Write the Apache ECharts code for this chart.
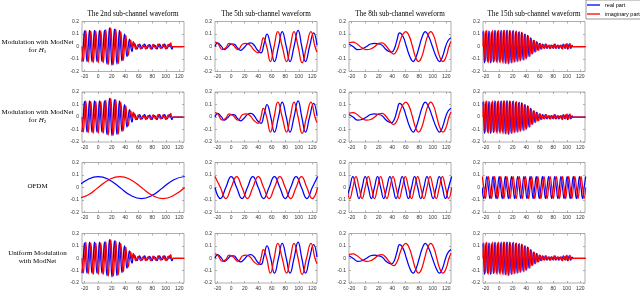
<!DOCTYPE html>
<html><head><meta charset="utf-8">
<script src="https://cdn.jsdelivr.net/npm/echarts@6/dist/echarts.min.js"></script>
<style>html,body{margin:0;padding:0;background:#fff}#c{width:640px;height:291px}</style>
</head><body><div id="c"></div>
<script>
// ---------- labels ----------
const colTitles = ['The 2nd sub-channel waveform','The 5th sub-channel waveform','The 8th sub-channel waveform','The 15th sub-channel waveform'];
const rowLabels = ['Modulation with ModNet\nfor {i|H}{s|1}','Modulation with ModNet\nfor {i|H}{s|2}','OFDM','Uniform Modulation\nwith ModNet'];
const xTicks = [-20,0,20,40,60,80,100,120];
const xMin = -24, xMax = 127;
const seriesNames = ['real part','imaginary part'];

// ---------- ModNet, 2nd sub-channel (uniform samples from -24, step 1.85) ----------
const a2Start = -24, a2Step = 1.85;
const a2Re = [-0.12,0,0.125,0,-0.12,0,0.13,0,-0.12,0,0.13,0,-0.12,0,0.13,0,-0.12,0,0.13,0,-0.14,0,0.15,0,-0.15,0,0.14,0,-0.14,0,0.13,0,-0.115,0,0.1,0,-0.08,0,0.06,0,-0.04,0.01,0.025,0,-0.02,0,0.02,0,-0.015,0,0.02,0,-0.015,0,0.015,0,-0.02,0,0.012,0,-0.02,0,0.02,0,-0.012,0,0.02,0,-0.015,0,0.02,0,-0.02,0,0,0,0,0,0,0,0,0];
const a2Im = [0,-0.12,0,0.13,0,-0.125,0,0.125,0,-0.13,0,0.125,0,-0.13,0,0.125,0,-0.13,0,0.135,0,-0.145,0,0.15,0,-0.145,0,0.14,0,-0.135,0,0.12,0,-0.11,0,0.09,0,-0.07,0,0.05,-0.01,0.04,0.01,-0.02,0,0.015,0,-0.02,0,0.012,0,-0.02,0,0.012,0,-0.02,0,0.018,0,-0.015,0,0.02,0,-0.015,0,0.018,0,-0.02,0,0.015,0,0.03,0,0,0,0,0,0,0,0,0,0,0];

// ---------- ModNet, 5th sub-channel ----------
const b5ReX = [-24,-20,-15,-10,-5,0,4,9,14,19,24,29,34,39,44,48.5,53,58.5,64,70,75.5,81.5,87,93,99,104.5,110,116,122,127];
const b5Re  = [0,0.03,0.005,-0.025,-0.005,0.02,0.02,-0.01,-0.03,-0.01,0.02,0.03,0.01,-0.03,-0.05,0.02,0.1,0,-0.12,0,0.12,0,-0.12,0,0.13,0,-0.12,0,0.11,0.01];
const b5ImX = [-24,-20,-13,-8,-3,3,10,17,22,28,34,40,44,47.5,52.5,58,63.5,69,75.5,82,87.5,93,99,105,111.5,118,124,127];
const b5Im  = [0.035,0.025,-0.025,-0.01,0.025,0.01,-0.025,0.02,0.025,0.01,-0.03,-0.05,0,0.07,0,-0.12,0,0.12,0,-0.12,0,0.12,0,-0.13,0,0.12,0,-0.045];

// ---------- ModNet, 8th sub-channel ----------
const c8ReX = [-24,-18,-11,-5,2,8,14,20,25,30,35,39,43,47,51,56,61,66,71,75.5,80,84.5,89,94,99.5,105,110,114.5,119,123,127];
const c8Re  = [0.02,0,-0.025,-0.02,0,0.02,0.025,0.02,0.01,-0.02,-0.04,-0.045,-0.02,0.05,0.11,0.08,0,-0.08,-0.12,-0.08,0,0.08,0.12,0.08,0,-0.08,-0.12,-0.08,0,0.05,0.07];
const c8ImX = [-24,-18,-12,-5,2,8,14,20,25,30,36,42,47,52,56,60,65,70,74.5,79,83.5,88,92.5,97,101.5,106,110.5,115,119.5,124,127];
const c8Im  = [0.03,0.035,0.02,-0.01,-0.025,-0.02,0,0.025,0.03,0.01,-0.03,-0.06,-0.03,0.05,0.1,0.12,0.085,0,-0.085,-0.12,-0.085,0,0.085,0.12,0.085,0,-0.085,-0.12,-0.085,0,0.04];

// ---------- ModNet, 15th sub-channel (uniform samples from -24, step 1.1) ----------
const d15Start = -24, d15Step = 1.1;
const d15Re = [0.12,0,-0.13,0,0.125,0,-0.12,0,0.125,0,-0.13,0,0.12,0,-0.125,0,0.13,0,-0.12,0,0.125,
  0,-0.12,0,0.125,0,-0.12,0,0.13,0,-0.135,0,0.13,0,-0.14,0,0.13,0,-0.13,0,0.125,0,-0.125,0,0.12,0,
  -0.12,0,0.115,0,-0.115,0,0.115,0,-0.105,0,0.1,0,-0.1,
  0,0.09,0,-0.08,0,
  0.07,0,-0.06,0,0.05,0,-0.045,0,0.04,
  0,-0.03,0,0.025,0,-0.02,0,0.02,
  0,-0.012,0,0.02,0,-0.015,0,0.01,0,-0.015,0,0.012,0,-0.012,0,0.02,0,-0.015,0,0.01,0,-0.015,0,0.01,0,-0.015,0,0.02,0,-0.012,0,0.02,0,-0.02,0,0.02,0,-0.015,0,0.01,
  0,0,0,0,0,0,0,0,0,0,0,0,0,0,0,0,0,0];
const d15Im = [0,0.125,0,-0.12,0,0.13,0,-0.13,0,0.12,0,-0.125,0,0.13,0,-0.12,0,0.125,0,-0.13,0,
  0.13,0,-0.13,0,0.13,0,-0.135,0,0.13,0,-0.135,0,0.13,0,-0.135,0,0.125,0,-0.13,0,0.13,0,-0.125,0,0.125,
  0,-0.12,0,0.12,0,-0.11,0,0.11,0,-0.11,0,0.1,0,
  -0.09,0,0.085,0,-0.08,
  0,0.065,0,-0.055,0,0.05,0,-0.04,0,
  0.035,0,-0.03,0,0.025,0,-0.02,0,
  0.015,0,-0.015,0,0.02,0,-0.012,0,0.012,0,-0.015,0,0.01,0,-0.015,0,0.02,0,-0.012,0,0.012,0,-0.012,0,0.012,0,-0.02,0,0.015,0,-0.015,0,0.025,0,-0.015,0,0.025,0,-0.01,0,
  0,0,0,0,0,0,0,0,0,0,0,0,0,0,0,0,0,0];

// ---------- OFDM sub-carriers ----------
const o2Start = -32, o2Step = 16;
const o2Re = [0,0.0625,0.088,0.0625,0,-0.0625,-0.088,-0.0625,0,0.0625,0.088];
const o2Im = [-0.088,-0.0625,0,0.0625,0.088,0.0625,0,-0.0625,-0.088,-0.0625,0];
const o5Start = -24, o5Step = 8;
const o5Re = [0,-0.088,0,0.088,0,-0.088,0,0.088,0,-0.088,0,0.088,0,-0.088,0,0.088,0,-0.088,0,0.088];
const o5Im = [0.088,0,-0.088,0,0.088,0,-0.088,0,0.088,0,-0.088,0,0.088,0,-0.088,0,0.088,0,-0.088,0];
const o8Start = -27.43, o8Step = 4.571;
const o8Re = [-0.088,0,0.088,0,-0.088,0,0.088,0,-0.088,0,0.088,0,-0.088,0,0.088,0,-0.088,0,0.088,0,-0.088,0,0.088,0,-0.088,0,0.088,0,-0.088,0,0.088,0,-0.088,0,0.088];
const o8Im = [0,-0.088,0,0.088,0,-0.088,0,0.088,0,-0.088,0,0.088,0,-0.088,0,0.088,0,-0.088,0,0.088,0,-0.088,0,0.088,0,-0.088,0,0.088,0,-0.088,0,0.088,0,-0.088,0];
const o15Start = -25.143, o15Step = 2.2857;
const o15Re = [0,-0.088,0,0.088,0,-0.088,0,0.088,0,-0.088,0,0.088,0,-0.088,0,0.088,0,-0.088,0,0.088,0,-0.088,0,0.088,0,-0.088,0,0.088,0,-0.088,0,0.088,0,-0.088,0,0.088,0,-0.088,0,0.088,0,-0.088,0,0.088,0,-0.088,0,0.088,0,-0.088,0,0.088,0,-0.088,0,0.088,0,-0.088,0,0.088,0,-0.088,0,0.088,0,-0.088,0,0.088];
const o15Im = [0.088,0,-0.088,0,0.088,0,-0.088,0,0.088,0,-0.088,0,0.088,0,-0.088,0,0.088,0,-0.088,0,0.088,0,-0.088,0,0.088,0,-0.088,0,0.088,0,-0.088,0,0.088,0,-0.088,0,0.088,0,-0.088,0,0.088,0,-0.088,0,0.088,0,-0.088,0,0.088,0,-0.088,0,0.088,0,-0.088,0,0.088,0,-0.088,0,0.088,0,-0.088,0,0.088,0,-0.088,0];

// ---------- build ----------
const zipXY = (xs, ys) => ys.map((y, i) => [xs[i], y]);
const uniXY = (x0, dx, ys) => ys.map((y, i) => [x0 + i * dx, y]);

const A = { re: uniXY(a2Start, a2Step, a2Re), im: uniXY(a2Start, a2Step, a2Im) };
const B = { re: zipXY(b5ReX, b5Re), im: zipXY(b5ImX, b5Im) };
const C = { re: zipXY(c8ReX, c8Re), im: zipXY(c8ImX, c8Im) };
const D = { re: uniXY(d15Start, d15Step, d15Re), im: uniXY(d15Start, d15Step, d15Im) };
const O2 = { re: uniXY(o2Start, o2Step, o2Re), im: uniXY(o2Start, o2Step, o2Im) };
const O5 = { re: uniXY(o5Start, o5Step, o5Re), im: uniXY(o5Start, o5Step, o5Im) };
const O8 = { re: uniXY(o8Start, o8Step, o8Re), im: uniXY(o8Start, o8Step, o8Im) };
const O15 = { re: uniXY(o15Start, o15Step, o15Re), im: uniXY(o15Start, o15Step, o15Im) };
const panels = [[A, B, C, D], [A, B, C, D], [O2, O5, O8, O15], [A, B, C, D]];

const colLeft = [82, 215, 349, 483];
const rowTop = [21.5, 92, 162.5, 233.5];
const PW = 102, PH = 50;
const serif = '"Liberation Serif", "DejaVu Serif", serif';
const sans = '"Liberation Sans", Arial, sans-serif';
const boxColor = '#9a9a9a';

const grid = [], xAxis = [], yAxis = [], series = [], title = [];
let p = 0;
for (let r = 0; r < 4; r++) {
  for (let c = 0; c < 4; c++) {
    grid.push({ left: colLeft[c], top: rowTop[r], width: PW, height: PH, show: true, borderColor: boxColor, borderWidth: 0.8 });
    const tick = { inside: true, length: 2, lineStyle: { color: boxColor, width: 0.8 } };
    const noLine = { show: false, onZero: false };
    xAxis.push({ gridIndex: p, type: 'value', min: xMin, max: xMax, position: 'bottom',
      axisLine: noLine, splitLine: { show: false },
      axisTick: Object.assign({ customValues: xTicks }, tick),
      axisLabel: { customValues: xTicks, fontSize: 5, color: '#333', margin: 3, fontFamily: sans } });
    xAxis.push({ gridIndex: p, type: 'value', min: xMin, max: xMax, position: 'top',
      axisLine: noLine, splitLine: { show: false }, axisLabel: { show: false },
      axisTick: Object.assign({ customValues: xTicks }, tick) });
    yAxis.push({ gridIndex: p, type: 'value', min: -0.2, max: 0.2, interval: 0.1, position: 'left',
      axisLine: noLine, splitLine: { show: false }, axisTick: tick,
      axisLabel: { fontSize: 5, color: '#333', margin: 3, fontFamily: sans } });
    yAxis.push({ gridIndex: p, type: 'value', min: -0.2, max: 0.2, interval: 0.1, position: 'right',
      axisLine: noLine, splitLine: { show: false }, axisTick: tick, axisLabel: { show: false } });
    const d = panels[r][c];
    series.push({ name: seriesNames[0], type: 'line', xAxisIndex: 2 * p, yAxisIndex: 2 * p, data: d.re,
      symbol: 'none', smooth: 0.5, lineStyle: { color: '#0000ff', width: 1.25 }, itemStyle: { color: '#0000ff' }, z: 2 });
    series.push({ name: seriesNames[1], type: 'line', xAxisIndex: 2 * p, yAxisIndex: 2 * p, data: d.im,
      symbol: 'none', smooth: 0.5, lineStyle: { color: '#ff0000', width: 1.25 }, itemStyle: { color: '#ff0000' }, z: 3 });
    p++;
  }
}
for (let c = 0; c < 4; c++) {
  title.push({ text: colTitles[c], left: colLeft[c] + PW / 2, top: 10, textAlign: 'center', padding: 0,
    textStyle: { fontSize: 7.2, fontWeight: 'normal', color: '#000', fontFamily: serif, lineHeight: 8 } });
}
const rowCenter = [46, 116, 186, 257];
for (let r = 0; r < 4; r++) {
  const lines = rowLabels[r].split('\n').length;
  title.push({ text: rowLabels[r], left: 37.5, top: rowCenter[r] - lines * 4, textAlign: 'center', padding: 0,
    textStyle: { fontSize: 7, fontWeight: 'normal', color: '#000', fontFamily: serif, lineHeight: 8, align: 'center',
      rich: { i: { fontSize: 7, fontStyle: 'italic', fontFamily: serif, lineHeight: 8 },
              s: { fontSize: 5, fontFamily: serif, verticalAlign: 'bottom', lineHeight: 8, padding: [3, 0, 0, 0] } } } });
}

const chart = echarts.init(document.getElementById('c'), null, { renderer: 'canvas' });
chart.setOption({
  animation: false,
  backgroundColor: '#fff',
  title: title,
  legend: { data: [{ name: seriesNames[0], icon: 'rect' }, { name: seriesNames[1], icon: 'rect' }],
    orient: 'vertical', left: 586, top: 0, padding: [2, 2, 2, 1], itemGap: 3,
    itemWidth: 13, itemHeight: 1.3, borderColor: '#555', borderWidth: 0.6, backgroundColor: '#fff',
    textStyle: { fontSize: 5.5, color: '#000', fontFamily: sans, lineHeight: 6 } },
  grid: grid, xAxis: xAxis, yAxis: yAxis, series: series
});
</script></body></html>
